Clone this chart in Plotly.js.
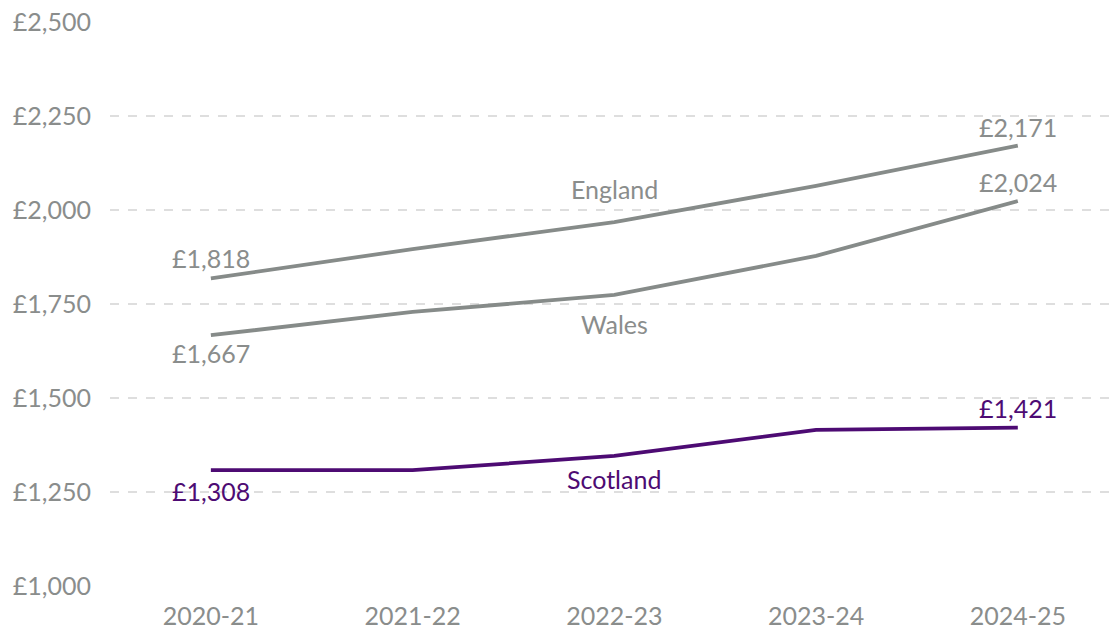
<!DOCTYPE html>
<html>
<head>
<meta charset="utf-8">
<script src="https://cdn.plot.ly/plotly-3.0.1.min.js"></script>
<style>html,body{margin:0;padding:0;background:#fff;}#chart{width:1110px;height:633px;}</style>
</head>
<body>
<div id="chart"></div>
<script>
const years = ["2020-21", "2021-22", "2022-23", "2023-24", "2024-25"];
const england = [1818, 1896, 1968, 2064, 2171];
const wales = [1667, 1729, 1774, 1878, 2024];
const scotland = [1308, 1308, 1346, 1415, 1421];
const yTicks = [1000, 1250, 1500, 1750, 2000, 2250, 2500];
const yTickText = ["£1,000", "£1,250", "£1,500", "£1,750", "£2,000", "£2,250", "£2,500"];

const grey = "#868b89";
const purple = "#4d0b73";
const textGrey = "#8a8d8c";
const FONT = "Lato, 'Noto Sans', sans-serif";
const fmt = v => "£" + v.toLocaleString("en-GB");

const traces = [
  {x: years, y: england, mode: "lines", line: {color: grey, width: 3.8}, name: "England"},
  {x: years, y: wales, mode: "lines", line: {color: grey, width: 3.8}, name: "Wales"},
  {x: years, y: scotland, mode: "lines", line: {color: purple, width: 3.8}, name: "Scotland"}
];

const last = years.length - 1;
function ann(x, y, text, color, yshift) {
  return {x: x, y: y, xref: "x", yref: "y", text: text, showarrow: false,
          yshift: yshift, font: {family: FONT, size: 25, color: color}};
}
const annotations = [
  ann(years[0], england[0], fmt(england[0]), textGrey, 20),
  ann(years[last], england[last], fmt(england[last]), textGrey, 19),
  ann(years[2], england[2], "England", textGrey, 33),
  ann(years[0], wales[0], fmt(wales[0]), textGrey, -18),
  ann(years[last], wales[last], fmt(wales[last]), textGrey, 19),
  ann(years[2], wales[2], "Wales", textGrey, -29),
  ann(years[0], scotland[0], fmt(scotland[0]), purple, -21),
  ann(years[last], scotland[last], fmt(scotland[last]), purple, 20),
  ann(years[2], scotland[2], "Scotland", purple, -23)
];

const layout = {
  width: 1110, height: 633,
  margin: {l: 110, r: 0, t: 22, b: 47},
  paper_bgcolor: "#fff", plot_bgcolor: "#fff",
  showlegend: false,
  font: {family: FONT, size: 25, color: textGrey},
  xaxis: {
    type: "category", range: [-0.5, 4.457],
    showgrid: false, zeroline: false, showline: false, ticks: "",
    tickfont: {family: FONT, size: 25, color: textGrey},
    ticklabelstandoff: 13
  },
  yaxis: {
    range: [1000, 2500], tickvals: yTicks, ticktext: yTickText,
    showgrid: true, gridcolor: "#dedede", griddash: "dash", gridwidth: 1.5,
    zeroline: false, showline: false, ticks: "",
    tickfont: {family: FONT, size: 25, color: textGrey},
    ticklabelstandoff: 18
  },
  annotations: annotations
};

Plotly.newPlot("chart", traces, layout, {displayModeBar: false, staticPlot: true});
</script>
</body>
</html>
